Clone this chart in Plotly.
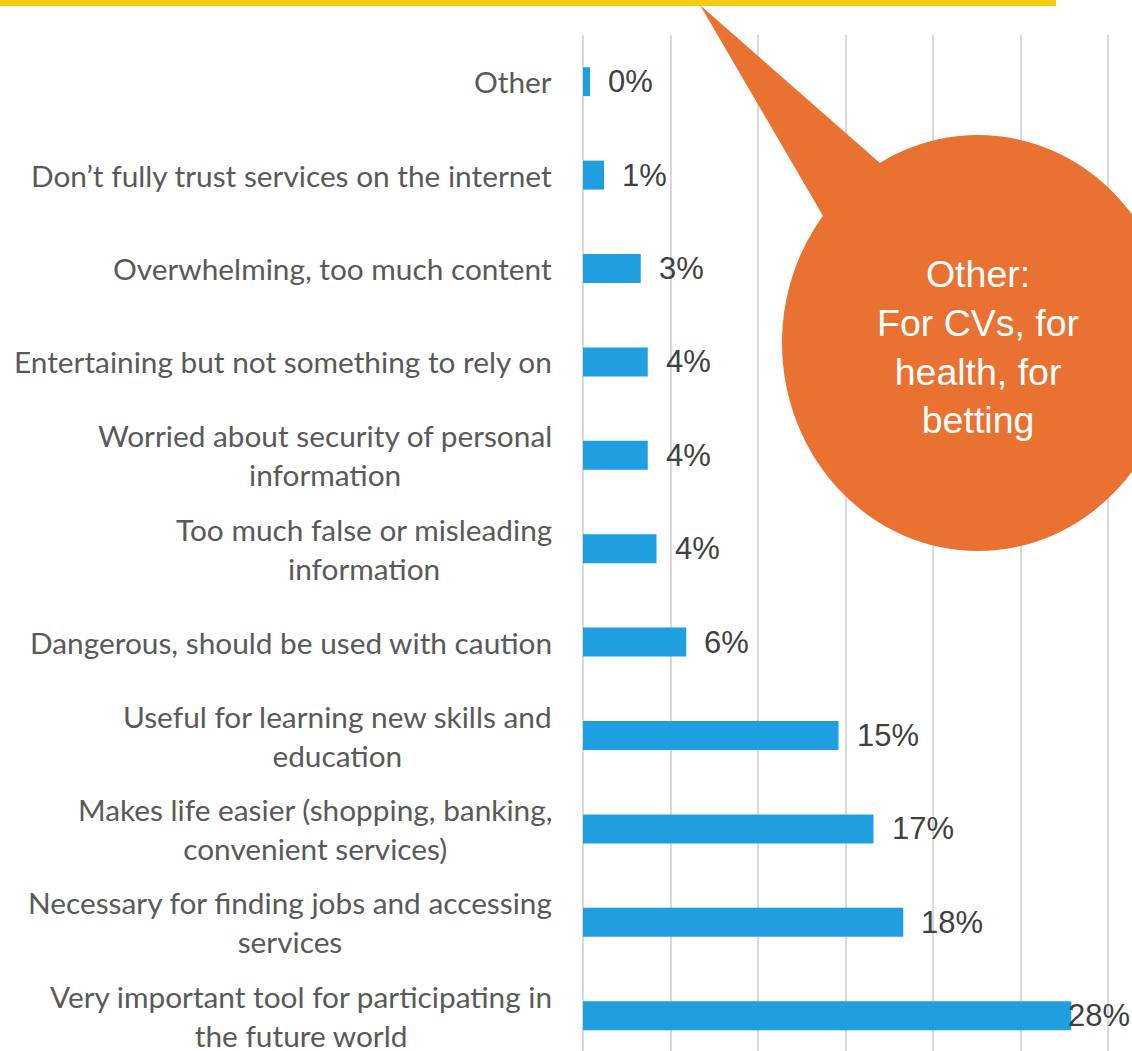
import plotly.graph_objects as go

# data, top to bottom as shown
categories = [
    "Other",
    "Don’t fully trust services on the internet",
    "Overwhelming, too much content",
    "Entertaining but not something to rely on",
    "Worried about security of personal<br>information",
    "Too much false or misleading<br>information",
    "Dangerous, should be used with caution",
    "Useful for learning new skills and<br>education",
    "Makes life easier (shopping, banking,<br>convenient services)",
    "Necessary for finding jobs and accessing<br>services",
    "Very important tool for participating in<br>the future world",
]
values = [0.4, 1.2, 3.3, 3.7, 3.7, 4.2, 5.9, 14.6, 16.6, 18.3, 27.9]
callout_text = "Other:<br>For CVs, for<br>health, for<br>betting"

W, H = 1132, 1051
L, T = 583, 35
pw, ph = W - L, H - T

def px(x):
    return (x - L) / pw

def py(y):
    return 1 - (y - T) / ph

BLUE = "#1F9FDF"
ORANGE = "#E97132"
YELLOW = "#F5CB14"

fig = go.Figure()
fig.add_trace(go.Bar(
    y=categories, x=values, orientation="h", width=0.31,
    marker=dict(color=BLUE, line=dict(width=0)),
    hoverinfo="skip",
))

# data labels
for c, v in zip(categories, values):
    fig.add_annotation(
        x=v, y=c, xref="x", yref="y", text=f"{round(v)}%",
        showarrow=False, xanchor="left", yanchor="middle",
        xshift=16 if v < 25 else -5,
        font=dict(family="Liberation Sans, Arial", size=31, color="#404040"),
    )

# category labels (centred lines, block right-aligned)
for c in categories:
    fig.add_annotation(
        x=0, y=c, xref="paper", yref="y", text=c,
        showarrow=False, xanchor="right", yanchor="middle", align="center",
        xshift=-29,
        font=dict(family="Lato, Calibri, sans-serif", size=29.8, color="#595959"),
    )

# yellow strip at top
fig.add_shape(type="rect", xref="paper", yref="paper",
              x0=px(0), x1=px(1056), y0=py(0), y1=py(6),
              fillcolor=YELLOW, line=dict(width=0), layer="above")

# callout tail + bubble
fig.add_shape(type="path", xref="paper", yref="paper",
              path=f"M {px(700)},{py(5)} L {px(840)},{py(245)} L {px(905)},{py(185)} Z",
              fillcolor=ORANGE, line=dict(width=0), layer="above")
fig.add_shape(type="circle", xref="paper", yref="paper",
              x0=px(782), x1=px(1174), y0=py(551), y1=py(135),
              fillcolor=ORANGE, line=dict(width=0), layer="above")
fig.add_annotation(
    x=px(978), y=py(347), xref="paper", yref="paper", text=callout_text,
    showarrow=False, xanchor="center", yanchor="middle", align="center",
    font=dict(family="Liberation Sans, Arial", size=37.5, color="white"),
)

fig.update_xaxes(
    range=[0, pw / 17.5], dtick=5, showgrid=True, gridcolor="#D9D9D9", gridwidth=1.5,
    zeroline=True, zerolinecolor="#D9D9D9", zerolinewidth=1.5,
    showticklabels=False, showline=False, fixedrange=True,
)
fig.update_yaxes(
    range=[-0.5 + ph / 93.4, -0.5], showticklabels=False, showgrid=False,
    zeroline=False, showline=False, fixedrange=True,
)
fig.update_layout(
    width=W, height=H, margin=dict(l=L, r=0, t=T, b=0),
    plot_bgcolor="white", paper_bgcolor="white", showlegend=False,
)

fig.write_html("out.html", config={"displayModeBar": False},
               post_script="document.body.style.margin='0';")
